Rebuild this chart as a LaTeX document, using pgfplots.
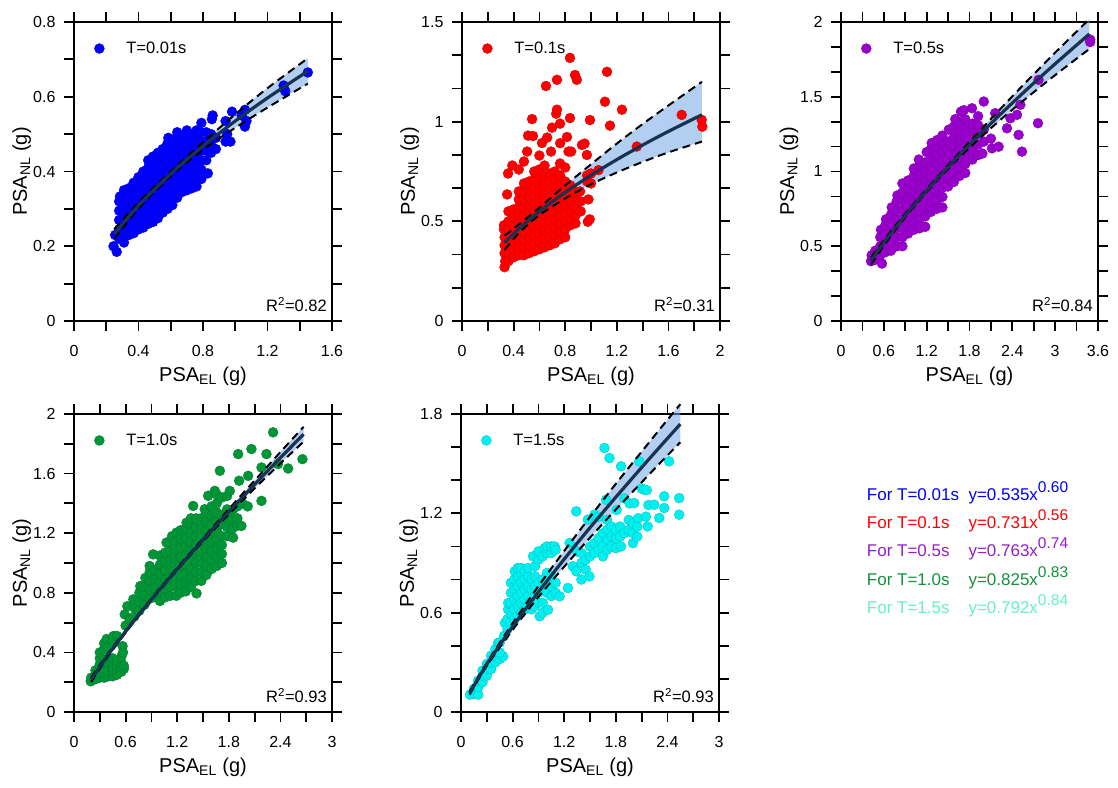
\documentclass[border=0pt]{standalone}
\usepackage{pgfplots}
\pgfplotsset{compat=1.18}
\usepgfplotslibrary{fillbetween}
\usepackage{pgfplotstable}
\usepackage{fontspec}
\setmainfont{Liberation Sans}
\definecolor{cblue}{RGB}{0,0,255}
\definecolor{cred}{RGB}{255,0,0}
\definecolor{cpurple}{RGB}{153,0,204}
\definecolor{cgreen}{RGB}{0,150,55}
\definecolor{ccyan}{RGB}{0,240,240}
\definecolor{cmint}{RGB}{100,240,200}
\definecolor{tpurple}{RGB}{150,30,200}
\definecolor{tgreen}{RGB}{20,145,60}
\definecolor{navy}{RGB}{25,50,80}
\definecolor{bandblue}{RGB}{115,165,230}

\pgfplotstableread{
x l u d
0.25 0.2329 0.246 0.220
0.40 0.3087 0.317 0.301
0.60 0.3938 0.400 0.388
0.80 0.4680 0.478 0.458
1.00 0.5350 0.553 0.517
1.20 0.5968 0.623 0.571
1.45 0.6686 0.703 0.635
}\fitA
\pgfplotstableread{
x l u d
0.33 0.3930 0.428 0.358
0.45 0.4674 0.489 0.447
0.60 0.5491 0.569 0.531
0.80 0.6451 0.680 0.615
1.00 0.7310 0.786 0.686
1.20 0.8096 0.890 0.745
1.40 0.8826 0.988 0.798
1.60 0.9511 1.081 0.846
1.86 1.0348 1.200 0.900
}\fitB
\pgfplotstableread{
x l u d
0.42 0.4016 0.427 0.377
0.60 0.5229 0.541 0.505
0.90 0.7058 0.718 0.694
1.20 0.8732 0.883 0.863
1.50 1.0300 1.042 1.018
1.80 1.1788 1.199 1.159
2.20 1.3674 1.402 1.332
2.60 1.5474 1.602 1.492
3.00 1.7203 1.795 1.645
3.48 1.9200 2.020 1.820
}\fitC
\pgfplotstableread{
x l u d
0.20 0.2170 0.232 0.202
0.40 0.3856 0.396 0.376
0.70 0.6136 0.621 0.607
1.00 0.8250 0.832 0.818
1.30 1.0257 1.034 1.018
1.60 1.2186 1.231 1.207
1.90 1.4055 1.426 1.386
2.20 1.5874 1.617 1.557
2.45 1.7356 1.776 1.696
2.67 1.8641 1.914 1.814
}\fitD
\pgfplotstableread{
x l u d
0.10 0.1145 0.125 0.1045
0.30 0.2880 0.298 0.278
0.60 0.5157 0.536 0.496
0.90 0.7249 0.760 0.695
1.20 0.9231 0.973 0.878
1.50 1.1134 1.178 1.053
1.80 1.2976 1.378 1.223
2.10 1.4769 1.572 1.387
2.35 1.6233 1.733 1.523
2.55 1.7388 1.859 1.629
}\fitE

\newcommand\drawfit[1]{%
  \addplot[draw=none, name path=up, smooth, forget plot] table[x=x,y=u]{#1};
  \addplot[draw=none, name path=lo, smooth, forget plot] table[x=x,y=d]{#1};
  \addplot[fill=bandblue, fill opacity=0.55, draw=none, forget plot] fill between[of=up and lo];
  \addplot[black, line width=2pt, dash pattern=on 8pt off 5pt, smooth, forget plot] table[x=x,y=u]{#1};
  \addplot[black, line width=2pt, dash pattern=on 8pt off 5pt, smooth, forget plot] table[x=x,y=d]{#1};
  \addplot[navy, line width=3.2pt, smooth, forget plot] table[x=x,y=l]{#1};
}

\pgfplotsset{
  panel/.style={
    scale only axis, width=258pt, height=299pt, anchor=south west,
    clip=false, clip marker paths=true,
    axis line style={line width=1.8pt},
    every tick/.style={line width=1.8pt, black},
    major tick length=10pt, minor tick length=10pt,
    tick align=outside,
    /pgf/number format/assume math mode=true,
    ticklabel style={font=\fontsize{16}{16}\selectfont},
    xticklabel shift=11pt,
    yticklabel shift=5pt,
    xlabel={PSA\textsubscript{EL} (g)},
    ylabel={PSA\textsubscript{NL} (g)},
    xlabel style={at={(axis description cs:0.5,-0.1538)}, anchor=north, inner sep=0pt, font=\fontsize{20}{20}\selectfont},
    ylabel style={at={(axis description cs:-0.1822,0.5)}, anchor=base, inner sep=0pt, font=\fontsize{20}{20}\selectfont},
    legend style={at={(axis description cs:0.079,0.933)}, anchor=north west,
      draw=none, fill=none, inner sep=0pt, outer sep=0pt, column sep=22pt,
      nodes={inner sep=0pt}, font=\fontsize{16.5}{16.5}\selectfont},
    legend image code/.code={\draw[##1] plot coordinates {(0pt,0pt)};},
  },
  pts/.style={only marks, mark=*, mark size=5pt, color=#1,
    mark options={fill=#1, draw=#1!80!black, line width=0.3pt}},
}
\newcommand\rsq[1]{\node[anchor=base east, inner sep=0pt, font=\fontsize{16.5}{16.5}\selectfont] at (rel axis cs:0.9806,0.0318) {R\textsuperscript{2}=#1};}

\begin{document}
\begin{tikzpicture}

% ---------- Panel 1 ----------
\begin{axis}[panel, at={(74pt,466pt)},
  xmin=0, xmax=1.6, ymin=0, ymax=0.8,
  xtick={0,0.4,0.8,1.2,1.6}, minor xtick={0.2,0.6,1.0,1.4},
  ytick={0,0.2,0.4,0.6,0.8}, minor ytick={0.1,0.3,0.5,0.7}]
\addplot[pts=cblue] coordinates {
(0.245,0.20)(0.265,0.185)(0.255,0.23)
(0.28,0.22)(0.28,0.245)(0.28,0.27)(0.28,0.295)(0.28,0.32)(0.285,0.333)
(0.31,0.21)(0.31,0.235)(0.31,0.26)(0.31,0.285)(0.31,0.31)(0.31,0.335)(0.31,0.35)
(0.34,0.23)(0.34,0.255)(0.34,0.28)(0.34,0.305)(0.34,0.33)(0.34,0.355)
(0.37,0.235)(0.37,0.26)(0.37,0.285)(0.37,0.31)(0.37,0.335)(0.37,0.36)(0.37,0.37)
(0.40,0.245)(0.40,0.27)(0.40,0.295)(0.40,0.32)(0.40,0.345)(0.40,0.37)(0.40,0.385)
(0.43,0.25)(0.43,0.275)(0.43,0.30)(0.43,0.325)(0.43,0.35)(0.43,0.375)(0.43,0.40)
(0.46,0.26)(0.46,0.285)(0.46,0.31)(0.46,0.335)(0.46,0.36)(0.46,0.385)(0.46,0.41)(0.46,0.43)
(0.49,0.265)(0.49,0.29)(0.49,0.315)(0.49,0.34)(0.49,0.365)(0.49,0.39)(0.49,0.415)(0.49,0.44)
(0.52,0.275)(0.52,0.30)(0.52,0.325)(0.52,0.35)(0.52,0.375)(0.52,0.40)(0.52,0.425)(0.52,0.45)
(0.55,0.29)(0.55,0.315)(0.55,0.34)(0.55,0.365)(0.55,0.39)(0.55,0.415)(0.55,0.44)(0.55,0.46)
(0.58,0.30)(0.58,0.325)(0.58,0.35)(0.58,0.375)(0.58,0.40)(0.58,0.425)(0.58,0.45)(0.58,0.475)(0.585,0.49)
(0.61,0.31)(0.61,0.335)(0.61,0.36)(0.61,0.385)(0.61,0.41)(0.61,0.435)(0.61,0.46)(0.61,0.485)
(0.64,0.33)(0.64,0.355)(0.64,0.38)(0.64,0.405)(0.64,0.43)(0.64,0.455)(0.64,0.48)(0.64,0.505)
(0.67,0.345)(0.67,0.37)(0.67,0.395)(0.67,0.42)(0.67,0.445)(0.67,0.47)(0.67,0.495)
(0.70,0.35)(0.70,0.375)(0.70,0.40)(0.70,0.425)(0.70,0.45)(0.70,0.475)(0.70,0.50)(0.70,0.51)
(0.73,0.355)(0.73,0.38)(0.73,0.405)(0.73,0.43)(0.73,0.455)(0.73,0.48)(0.73,0.50)
(0.76,0.36)(0.76,0.385)(0.76,0.41)(0.76,0.435)(0.76,0.46)(0.76,0.485)(0.76,0.51)
(0.79,0.38)(0.79,0.405)(0.79,0.43)(0.79,0.455)(0.79,0.48)(0.79,0.505)(0.79,0.53)
(0.83,0.395)(0.82,0.43)(0.82,0.455)(0.82,0.48)(0.82,0.505)
(0.85,0.45)(0.85,0.47)(0.85,0.50)(0.855,0.54)(0.86,0.55)
(0.88,0.46)(0.88,0.49)
(0.94,0.48)(0.95,0.50)(0.94,0.535)
(0.97,0.48)(0.98,0.56)
(1.04,0.55)(1.06,0.52)(1.07,0.535)(1.06,0.565)
(1.30,0.63)(1.31,0.615)(1.45,0.665)
};
\addlegendentry{T=0.01s}
\drawfit{\fitA}
\rsq{0.82}
\end{axis}

% ---------- Panel 2 ----------
\begin{axis}[panel, at={(462pt,466pt)},
  xmin=0, xmax=2, ymin=0, ymax=1.5,
  xtick={0,0.4,0.8,1.2,1.6,2}, minor xtick={0.2,0.6,1.0,1.4,1.8},
  ytick={0,0.5,1,1.5}, minor ytick={0.16667,0.33333,0.66667,0.83333,1.16667,1.33333}]
\addplot[pts=cred] coordinates {
(0.33,0.27)(0.335,0.30)(0.33,0.34)(0.33,0.38)(0.33,0.42)(0.325,0.46)(0.325,0.48)
(0.36,0.30)(0.36,0.34)(0.36,0.38)(0.36,0.42)(0.36,0.46)(0.36,0.50)(0.36,0.55)(0.35,0.635)(0.357,0.74)
(0.40,0.32)(0.40,0.36)(0.40,0.40)(0.40,0.44)(0.40,0.48)(0.40,0.52)(0.40,0.56)(0.39,0.78)
(0.44,0.33)(0.44,0.37)(0.44,0.41)(0.44,0.45)(0.44,0.49)(0.44,0.53)(0.44,0.57)(0.44,0.61)(0.44,0.65)(0.44,0.76)
(0.48,0.33)(0.48,0.37)(0.48,0.41)(0.48,0.45)(0.48,0.49)(0.48,0.53)(0.48,0.57)(0.48,0.61)(0.48,0.65)(0.48,0.69)(0.48,0.80)
(0.52,0.34)(0.52,0.38)(0.52,0.42)(0.52,0.46)(0.52,0.50)(0.52,0.54)(0.52,0.58)(0.52,0.62)(0.52,0.66)(0.52,0.70)(0.505,0.85)(0.512,0.93)
(0.56,0.35)(0.56,0.39)(0.56,0.43)(0.56,0.47)(0.56,0.51)(0.56,0.55)(0.56,0.59)(0.56,0.63)(0.56,0.67)(0.56,0.71)(0.56,0.75)(0.55,0.928)(0.543,1.013)
(0.60,0.36)(0.60,0.40)(0.60,0.44)(0.60,0.48)(0.60,0.52)(0.60,0.56)(0.60,0.60)(0.60,0.64)(0.60,0.68)(0.60,0.72)(0.60,0.76)(0.62,0.893)(0.60,0.83)
(0.64,0.37)(0.64,0.41)(0.64,0.45)(0.64,0.49)(0.64,0.53)(0.64,0.57)(0.64,0.61)(0.64,0.65)(0.64,0.69)(0.64,0.73)(0.64,0.78)(0.66,0.92)(0.651,1.179)
(0.68,0.38)(0.68,0.42)(0.68,0.46)(0.68,0.50)(0.68,0.54)(0.68,0.58)(0.68,0.62)(0.68,0.66)(0.68,0.70)(0.68,0.74)(0.69,0.85)(0.698,0.97)
(0.72,0.39)(0.72,0.43)(0.72,0.47)(0.72,0.51)(0.72,0.55)(0.72,0.59)(0.72,0.63)(0.72,0.67)(0.72,0.71)(0.72,0.75)(0.73,1.04)(0.736,1.06)(0.736,1.21)
(0.76,0.41)(0.76,0.45)(0.76,0.49)(0.76,0.53)(0.76,0.57)(0.76,0.61)(0.76,0.65)(0.76,0.69)(0.76,0.73)(0.76,0.79)(0.76,0.99)(0.761,0.892)
(0.80,0.42)(0.80,0.46)(0.80,0.50)(0.80,0.54)(0.80,0.58)(0.80,0.62)(0.80,0.66)(0.80,0.70)(0.80,0.77)(0.814,0.923)
(0.84,0.48)(0.84,0.52)(0.84,0.56)(0.84,0.60)(0.84,0.64)(0.84,0.68)(0.846,0.85)(0.837,1.018)(0.826,0.85)(0.837,1.32)
(0.88,0.49)(0.88,0.53)(0.88,0.57)(0.88,0.61)(0.88,0.65)(0.876,1.234)(0.89,1.21)
(0.92,0.55)(0.92,0.60)(0.915,0.65)(0.93,0.883)(0.95,0.89)
(0.975,0.498)(0.98,0.61)(0.97,0.70)(0.97,0.73)(0.968,0.833)(0.992,1.008)
(0.99,0.51)(1.0,0.69)(1.0,0.74)
(1.058,0.757)(1.108,1.10)(1.124,1.25)(1.147,0.98)(1.24,1.06)(1.355,0.875)(1.703,1.034)(1.858,1.009)(1.863,0.975)
};
\addlegendentry{T=0.1s}
\drawfit{\fitB}
\rsq{0.31}
\end{axis}

% ---------- Panel 3 ----------
\begin{axis}[panel, at={(841pt,466pt)}, width=257pt,
  xmin=0, xmax=3.6, ymin=0, ymax=2,
  xtick={0,0.6,1.2,1.8,2.4,3,3.6}, minor xtick={0.3,0.9,1.5,2.1,2.7,3.3},
  ytick={0,0.5,1,1.5,2}, minor ytick={0.16667,0.33333,0.66667,0.83333,1.16667,1.33333,1.66667,1.83333}]
\addplot[pts=cpurple] coordinates {
(0.42,0.40)(0.43,0.44)(0.48,0.41)(0.48,0.47)(0.574,0.384)
(0.55,0.44)(0.55,0.50)(0.55,0.56)(0.56,0.61)
(0.62,0.46)(0.62,0.52)(0.62,0.58)(0.62,0.64)(0.63,0.68)
(0.70,0.47)(0.70,0.53)(0.70,0.59)(0.70,0.65)(0.70,0.71)(0.71,0.76)
(0.78,0.50)(0.78,0.56)(0.78,0.62)(0.78,0.68)(0.78,0.74)(0.78,0.80)(0.79,0.84)
(0.86,0.50)(0.86,0.56)(0.86,0.62)(0.86,0.68)(0.86,0.74)(0.86,0.80)(0.86,0.86)(0.86,0.92)
(0.94,0.585)(0.94,0.64)(0.94,0.70)(0.94,0.76)(0.94,0.82)(0.94,0.88)(0.94,0.94)
(1.02,0.61)(1.02,0.67)(1.02,0.73)(1.02,0.79)(1.02,0.85)(1.02,0.91)(1.02,0.97)(1.02,1.02)
(1.10,0.62)(1.10,0.68)(1.10,0.74)(1.10,0.80)(1.10,0.86)(1.10,0.92)(1.10,0.98)(1.10,1.04)(1.09,1.08)
(1.18,0.63)(1.18,0.70)(1.18,0.76)(1.18,0.82)(1.18,0.88)(1.18,0.94)(1.18,1.00)(1.18,1.06)(1.20,1.13)
(1.26,0.73)(1.26,0.79)(1.26,0.85)(1.26,0.91)(1.26,0.97)(1.26,1.03)(1.26,1.09)(1.26,1.15)(1.27,1.19)
(1.34,0.75)(1.34,0.81)(1.34,0.87)(1.34,0.93)(1.34,0.99)(1.34,1.05)(1.34,1.11)(1.34,1.17)(1.345,1.21)
(1.42,0.76)(1.42,0.83)(1.42,0.89)(1.42,0.95)(1.42,1.01)(1.42,1.07)(1.42,1.13)(1.42,1.19)(1.42,1.24)
(1.50,0.90)(1.50,0.96)(1.50,1.02)(1.50,1.08)(1.50,1.14)(1.50,1.20)(1.51,1.28)
(1.58,0.93)(1.58,0.99)(1.58,1.05)(1.58,1.11)(1.58,1.17)(1.58,1.23)(1.58,1.30)(1.60,1.35)
(1.66,0.97)(1.66,1.03)(1.66,1.09)(1.66,1.15)(1.66,1.21)(1.66,1.27)(1.66,1.33)(1.68,1.40)
(1.74,0.99)(1.74,1.05)(1.74,1.11)(1.74,1.17)(1.74,1.23)(1.74,1.29)(1.74,1.35)(1.72,1.41)
(1.84,1.08)(1.84,1.14)(1.84,1.20)(1.84,1.26)(1.84,1.32)(1.835,1.423)
(1.92,1.11)(1.92,1.18)(1.92,1.25)(1.92,1.31)(1.92,1.37)
(1.98,1.12)(2.00,1.20)(2.00,1.28)(2.00,1.468)
(2.115,1.155)(2.10,1.22)(2.208,1.166)(2.16,1.39)(2.325,1.289)(2.372,1.356)(2.465,1.379)(2.512,1.446)(2.488,1.245)(2.535,1.133)(2.759,1.323)(2.768,1.613)(3.49,1.882)(3.49,1.866)
};
\addlegendentry{T=0.5s}
\drawfit{\fitC}
\rsq{0.84}
\end{axis}

% ---------- Panel 4 ----------
\begin{axis}[panel, at={(74pt,75pt)}, height=298pt,
  xmin=0, xmax=3, ymin=0, ymax=2,
  xtick={0,0.6,1.2,1.8,2.4,3}, minor xtick={0.3,0.9,1.5,2.1,2.7},
  ytick={0,0.4,0.8,1.2,1.6,2}, minor ytick={0.2,0.6,1.0,1.4,1.8}]
\addplot[pts=cgreen] coordinates {
(0.194,0.206)(0.20,0.23)
(0.25,0.22)(0.25,0.25)(0.25,0.28)
(0.30,0.23)(0.30,0.26)(0.30,0.29)(0.30,0.32)(0.30,0.36)(0.30,0.40)
(0.35,0.23)(0.35,0.26)(0.35,0.29)(0.35,0.32)(0.35,0.35)(0.35,0.42)(0.35,0.46)
(0.40,0.24)(0.40,0.27)(0.40,0.30)(0.40,0.33)(0.40,0.36)(0.40,0.44)(0.38,0.49)
(0.45,0.24)(0.45,0.27)(0.45,0.30)(0.45,0.33)(0.45,0.36)(0.45,0.48)(0.46,0.51)
(0.50,0.25)(0.50,0.28)(0.50,0.31)(0.50,0.34)(0.50,0.51)
(0.55,0.27)(0.55,0.30)(0.55,0.33)(0.55,0.37)(0.565,0.442)
(0.58,0.29)(0.58,0.31)(0.57,0.40)
(0.60,0.58)(0.59,0.655)
(0.65,0.62)(0.62,0.71)
(0.70,0.64)(0.70,0.70)(0.69,0.756)
(0.76,0.68)(0.76,0.74)(0.76,0.80)(0.77,0.845)
(0.82,0.72)(0.82,0.78)(0.82,0.84)(0.83,0.90)
(0.88,0.76)(0.88,0.82)(0.88,0.88)(0.88,0.94)(0.88,0.98)
(0.94,0.77)(0.94,0.83)(0.94,0.89)(0.94,0.95)(0.92,1.058)
(1.00,0.745)(1.00,0.81)(1.00,0.87)(1.00,0.93)(1.00,0.99)(1.00,1.05)
(1.06,0.77)(1.06,0.83)(1.06,0.89)(1.06,0.95)(1.06,1.01)(1.06,1.07)(1.076,1.137)
(1.12,0.78)(1.12,0.84)(1.12,0.90)(1.12,0.96)(1.12,1.02)(1.12,1.08)(1.12,1.14)(1.14,1.18)
(1.19,0.78)(1.18,0.84)(1.18,0.90)(1.18,0.96)(1.18,1.02)(1.18,1.08)(1.18,1.14)(1.192,1.204)
(1.24,0.80)(1.24,0.86)(1.24,0.92)(1.24,0.98)(1.24,1.04)(1.24,1.10)(1.24,1.16)(1.24,1.22)
(1.30,0.81)(1.30,0.87)(1.30,0.93)(1.30,0.99)(1.30,1.05)(1.30,1.11)(1.30,1.17)(1.30,1.23)(1.309,1.271)
(1.36,0.84)(1.36,0.90)(1.36,0.96)(1.36,1.02)(1.36,1.08)(1.36,1.14)(1.36,1.20)(1.36,1.26)(1.36,1.30)
(1.425,0.796)(1.42,0.88)(1.42,0.94)(1.42,1.00)(1.42,1.06)(1.42,1.12)(1.42,1.18)(1.42,1.24)(1.42,1.30)(1.386,1.383)
(1.48,0.88)(1.48,0.94)(1.48,1.00)(1.48,1.06)(1.48,1.12)(1.48,1.18)(1.48,1.24)(1.48,1.30)(1.52,1.361)
(1.54,0.92)(1.54,0.98)(1.54,1.04)(1.54,1.10)(1.54,1.16)(1.54,1.22)(1.54,1.28)(1.54,1.34)(1.56,1.451)
(1.60,0.96)(1.60,1.02)(1.60,1.08)(1.60,1.14)(1.60,1.20)(1.60,1.26)(1.60,1.32)(1.60,1.38)(1.637,1.484)
(1.66,0.98)(1.66,1.04)(1.66,1.10)(1.66,1.16)(1.66,1.22)(1.66,1.28)(1.66,1.34)(1.66,1.40)(1.66,1.46)
(1.72,1.00)(1.72,1.06)(1.72,1.12)(1.72,1.18)(1.72,1.26)(1.72,1.32)(1.72,1.44)(1.696,1.619)
(1.78,1.18)(1.78,1.24)(1.78,1.30)(1.78,1.36)(1.78,1.45)
(1.85,1.17)(1.84,1.23)(1.84,1.29)(1.84,1.35)(1.812,1.484)
(1.90,1.25)(1.90,1.30)(1.90,1.38)(1.92,1.552)(1.909,1.731)
(1.947,1.249)(1.96,1.40)
(2.02,1.38)(2.025,1.585)(2.063,1.765)
(2.18,1.417)(2.18,1.641)(2.238,1.731)(2.315,1.877)(2.373,1.664)(2.49,1.634)(2.656,1.697)
};
\addlegendentry{T=1.0s}
\drawfit{\fitD}
\rsq{0.93}
\end{axis}

% ---------- Panel 5 ----------
\begin{axis}[panel, at={(461pt,75pt)}, height=298pt,
  xmin=0, xmax=3, ymin=0, ymax=1.8,
  xtick={0,0.6,1.2,1.8,2.4,3}, minor xtick={0.3,0.9,1.5,2.1,2.7},
  ytick={0,0.6,1.2,1.8}, minor ytick={0.2,0.4,0.8,1.0,1.4,1.6}]
\addplot[pts=ccyan] coordinates {
(0.104,0.105)(0.15,0.11)(0.15,0.14)(0.20,0.105)(0.20,0.15)(0.20,0.19)
(0.25,0.18)(0.25,0.22)(0.25,0.25)
(0.30,0.22)(0.30,0.26)(0.30,0.29)
(0.35,0.26)(0.35,0.30)(0.35,0.34)
(0.40,0.30)(0.40,0.34)(0.40,0.38)(0.432,0.417)
(0.45,0.32)(0.49,0.336)(0.45,0.36)(0.45,0.42)
(0.50,0.46)(0.51,0.538)
(0.54,0.50)(0.54,0.56)(0.548,0.62)(0.548,0.658)
(0.58,0.54)(0.58,0.60)(0.58,0.66)(0.58,0.72)(0.58,0.78)
(0.62,0.56)(0.62,0.62)(0.62,0.68)(0.62,0.74)(0.62,0.80)(0.625,0.85)
(0.66,0.58)(0.66,0.64)(0.66,0.70)(0.66,0.76)(0.66,0.82)(0.66,0.87)
(0.70,0.60)(0.70,0.66)(0.70,0.72)(0.70,0.78)(0.70,0.84)(0.70,0.87)
(0.74,0.62)(0.74,0.68)(0.74,0.74)(0.74,0.80)(0.741,0.85)
(0.78,0.64)(0.78,0.70)(0.78,0.76)(0.78,0.82)(0.78,0.87)
(0.82,0.62)(0.82,0.68)(0.82,0.74)(0.82,0.80)(0.838,0.94)
(0.86,0.64)(0.86,0.70)(0.86,0.76)(0.86,0.82)(0.86,0.88)
(0.915,0.578)(0.90,0.66)(0.90,0.72)(0.90,0.78)(0.90,0.92)(0.90,0.97)
(0.95,0.60)(0.95,0.66)(0.95,0.74)(0.95,0.80)(0.95,0.94)(0.973,0.99)
(1.012,0.618)(1.00,0.72)(1.00,0.78)(1.00,0.84)(1.00,0.96)(1.00,1.00)
(1.05,0.70)(1.05,0.76)(1.05,0.82)(1.05,0.96)(1.05,1.00)
(1.089,1.00)(1.10,0.72)(1.10,0.78)(1.10,0.98)
(1.147,0.699)(1.243,0.749)(1.263,1.021)(1.34,1.212)
(1.30,0.88)(1.34,0.85)(1.35,0.97)
(1.40,0.80)(1.40,0.90)(1.40,0.96)
(1.45,0.86)(1.45,0.92)
(1.494,0.819)(1.50,0.94)(1.50,1.00)(1.475,1.162)
(1.55,0.96)(1.55,1.02)(1.552,1.192)
(1.60,0.98)(1.60,1.05)(1.60,1.18)
(1.65,0.94)(1.65,1.00)(1.65,1.08)(1.687,1.282)
(1.668,1.595)(1.726,1.534)
(1.70,0.98)(1.70,1.04)(1.70,1.10)(1.70,1.16)
(1.75,1.00)(1.75,1.06)(1.75,1.12)
(1.80,0.99)(1.80,1.05)(1.80,1.10)(1.81,1.22)
(1.861,1.00)(1.85,1.06)(1.85,1.12)(1.861,1.484)
(1.90,1.08)(1.90,1.29)
(1.95,1.10)(1.95,1.16)(1.96,1.26)
(2.00,1.02)(2.00,1.08)(2.00,1.14)(2.015,1.262)
(2.05,1.06)(2.06,1.17)(2.05,1.12)(2.073,1.514)
(2.10,1.35)(2.131,1.343)(2.16,1.34)
(2.17,1.121)(2.15,1.18)(2.18,1.25)
(2.247,1.252)(2.305,1.172)(2.363,1.232)(2.363,1.303)
(2.42,1.514)(2.537,1.292)(2.537,1.192)
};
\addlegendentry{T=1.5s}
\drawfit{\fitE}
\rsq{0.93}
\end{axis}

% ---------- equations ----------
\begin{scope}[every node/.style={anchor=base west, inner sep=0pt, font=\fontsize{17}{17}\selectfont}]
\node[text=cblue] at (866.7pt,286pt) {For T=0.01s};
\node[text=cblue] at (968.3pt,286pt) {y=0.535x\raisebox{8.5pt}{\fontsize{15.5}{15.5}\selectfont 0.60}};
\node[text=cred] at (866.7pt,258pt) {For T=0.1s};
\node[text=cred] at (968.3pt,258pt) {y=0.731x\raisebox{8.5pt}{\fontsize{15.5}{15.5}\selectfont 0.56}};
\node[text=tpurple] at (866.7pt,230pt) {For T=0.5s};
\node[text=tpurple] at (968.3pt,230pt) {y=0.763x\raisebox{8.5pt}{\fontsize{15.5}{15.5}\selectfont 0.74}};
\node[text=tgreen] at (866.7pt,201pt) {For T=1.0s};
\node[text=tgreen] at (968.3pt,201pt) {y=0.825x\raisebox{8.5pt}{\fontsize{15.5}{15.5}\selectfont 0.83}};
\node[text=cmint] at (866.7pt,173pt) {For T=1.5s};
\node[text=cmint] at (968.3pt,173pt) {y=0.792x\raisebox{8.5pt}{\fontsize{15.5}{15.5}\selectfont 0.84}};
\end{scope}
\pgfresetboundingbox
\path[use as bounding box] (0,0) rectangle (1118pt,787pt);
\end{tikzpicture}
\end{document}
